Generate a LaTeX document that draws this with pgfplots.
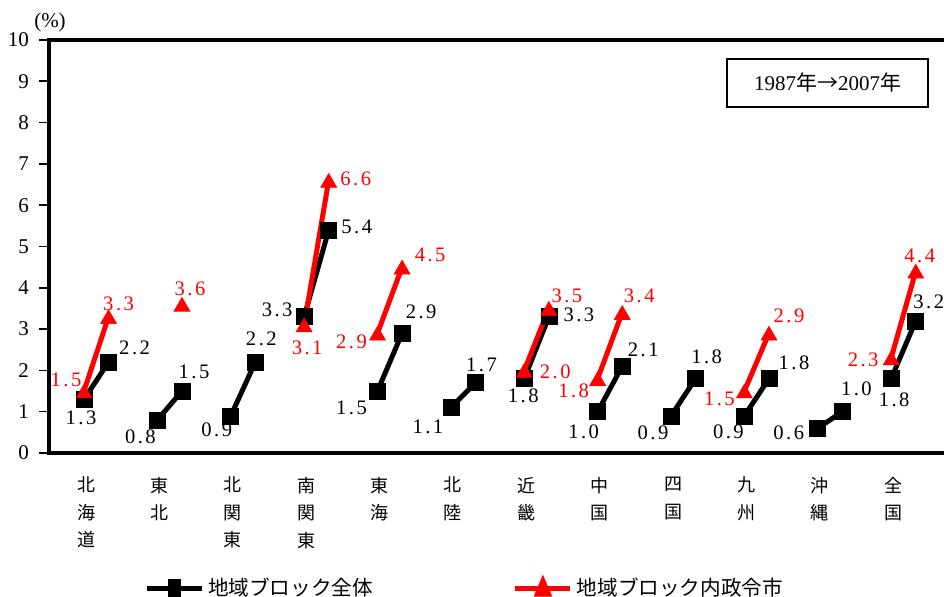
\documentclass[border=0pt]{standalone}
\usepackage{fontspec}
\setmainfont{Liberation Serif}
\newfontfamily\cjk{Noto Sans CJK JP}
\usepackage{pgfplots}
\usepackage{pgfplotstable}
\pgfplotsset{compat=1.18}
\definecolor{pred}{RGB}{255,0,0}

% x: category index (1987 at k, 2007 at k+0.335); y: share in %;
% dx, dy: label offset in pt
\pgfplotstableread{
x      y    dx    dy
0      1.3  -1.5  -9.5
0.335  2.2  13    7
nan    nan  0     0
1      0.8  -8.5  -8.5
1.335  1.5  6     9.5
nan    nan  0     0
2      0.9  -7    -7
2.335  2.2  3     11.5
nan    nan  0     0
3      3.3  -13.5 3.5
3.335  5.4  14    1.5
nan    nan  0     0
4      1.5  -13   -8.5
4.335  2.9  9.5   10.5
nan    nan  0     0
5      1.1  -11.5 -9.5
5.335  1.7  3     9
nan    nan  0     0
6      1.8  -0.5  -8.5
6.335  3.3  15    1
nan    nan  0     0
7      1.0  -7    -10
7.335  2.1  10.5  8
nan    nan  0     0
8      0.9  -9    -8.5
8.335  1.8  5.5   11
nan    nan  0     0
9      0.9  -8    -8
9.335  1.8  12.5  8
nan    nan  0     0
10     0.6  -14.5 -2.5
10.335 1.0  7     11.5
nan    nan  0     0
11     1.8  1.5   -10.5
11.335 3.2  6.5   9.5
}\blocktotal

\pgfplotstableread{
x      y    dx    dy
0      1.5  -9    6.5
0.335  3.3  5     7.5
nan    nan  0     0
1.335  3.6  4     9
nan    nan  0     0
3      3.1  1.5   -10.5
3.335  6.6  13.5  2
nan    nan  0     0
4      2.9  -13   -3
4.335  4.5  14    7.5
nan    nan  0     0
6      2.0  15.5  0.5
6.335  3.5  9     7.5
nan    nan  0     0
7      1.8  -12   -5
7.335  3.4  8.5   9.5
nan    nan  0     0
9      1.5  -12.5 -3
9.335  2.9  10    10
nan    nan  0     0
11     2.3  -14   0
11.335 4.4  2     9
}\blockcities

\begin{document}
\begin{tikzpicture}
\useasboundingbox (-24.5pt,-72pt) rectangle (447.5pt,226.5pt);
\begin{axis}[
  scale only axis,
  width=447.5pt, height=206.5pt,
  xmin=-0.477, xmax=11.72,
  ymin=0, ymax=10,
  axis x line*=box,
  axis y line*=left,
  axis line style={line width=2pt, line cap=rect},
  ytick={0,1,...,10},
  ytick pos=left,
  tick align=outside,
  major tick length=5pt,
  ytick style={line width=0.8pt, black},
  yticklabel style={font=\fontsize{10.5}{12}\selectfont, xshift=-1.5pt},
  /pgf/number format/assume math mode=true,
  xtick={0,...,11},
  xtick style={draw=none},
  xticklabels={{北\\海\\道},{東\\北},{北\\関\\東},{南\\関\\東},{東\\海},{北\\陸},{近\\畿},{中\\国},{四\\国},{九\\州},{沖\\縄},{全\\国}},
  xticklabel style={align=center, font=\cjk\fontsize{9}{13.75}\selectfont, yshift=-3.5pt, xshift=1pt},
  unbounded coords=jump,
  legend columns=2,
  legend style={at={(0.4654,-0.327)}, anchor=center, draw=none,
    font=\cjk\fontsize{10.3}{12}\selectfont,
    /tikz/every even column/.append style={column sep=68pt}},
  legend cell align=left,
  clip=false,
  labelled/.style={
    point meta=y,
    nodes near coords={\pgfmathprintnumber[fixed,fixed zerofill,precision=1]{\pgfplotspointmeta}},
    visualization depends on={\thisrow{dx} \as \dx},
    visualization depends on={\thisrow{dy} \as \dy},
    every node near coord/.append style={anchor=center, xshift=\dx pt, yshift=\dy pt,
      text=#1, font=\fontsize{10.3}{12}\selectfont\addfontfeatures{LetterSpace=12}},
  },
]
\addplot[black, line width=2.5pt, mark=square*, mark size=4pt,
  mark options={line width=0.3pt}, labelled=black,
  legend image code/.code={
    \draw[black, line width=2.5pt, mark=none] (0pt,0pt) -- (27.5pt,0pt);
    \fill[black] (11.75pt,-3pt) rectangle (15.75pt,3.5pt);}]
  table[x=x, y=y] {\blocktotal};
\addlegendentry{地域ブロック全体}

\addplot[pred, line width=2.5pt, mark=triangle*, mark size=4.6pt,
  mark options={line width=0.3pt, yshift=-1.15pt}, labelled=pred,
  legend image code/.code={
    \draw[pred, line width=2.5pt, mark=none] (0pt,0pt) -- (27.5pt,0pt);
    \fill[pred] (11pt,-3pt) -- (16.5pt,-3pt) -- (13.75pt,3.5pt) -- cycle;}]
  table[x=x, y=y] {\blockcities};
\addlegendentry{地域ブロック内政令市}

\node[font=\fontsize{10.5}{12}\selectfont] at (rel axis cs:0,1) [xshift=0.5pt, yshift=9pt] {(\%)};
\node[draw, line width=0.75pt, minimum width=100.5pt, minimum height=24pt, inner sep=0pt,
  font=\fontsize{10.5}{12}\selectfont]
  at (rel axis cs:0.870,0.896) {1987{\cjk 年→}2007{\cjk 年}};
\end{axis}
\end{tikzpicture}
\end{document}
